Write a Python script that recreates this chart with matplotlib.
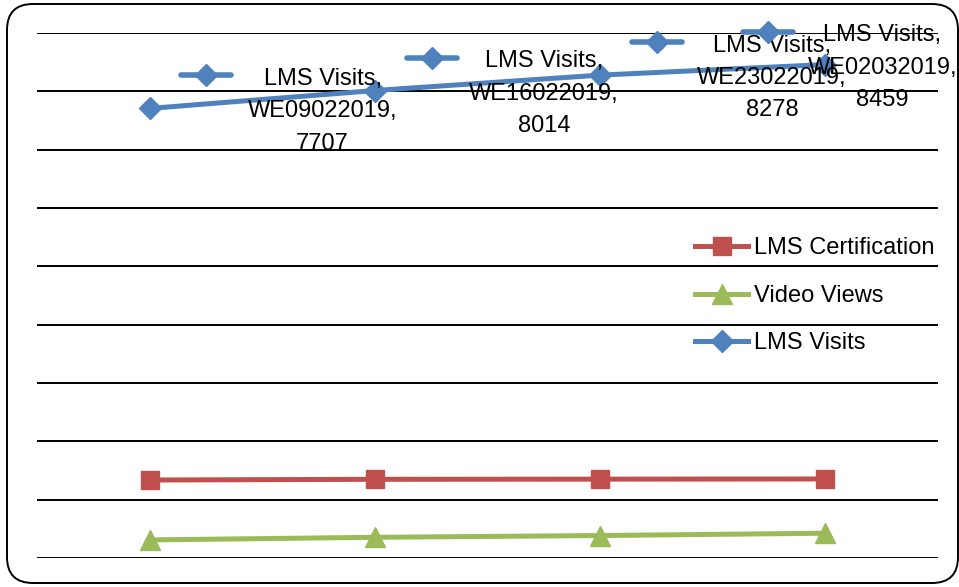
import matplotlib
matplotlib.use("Agg")
import matplotlib.pyplot as plt
import matplotlib.patches as mpatches
from matplotlib.lines import Line2D
from matplotlib.offsetbox import DrawingArea, AnnotationBbox
from matplotlib.transforms import IdentityTransform

plt.rcParams['font.family'] = ['Liberation Sans', 'DejaVu Sans']

weeks = ['WE09022019', 'WE16022019', 'WE23022019', 'WE02032019']
lms_visits = [7707, 8014, 8278, 8459]
video_views = [310, 355, 385, 425]
lms_cert = [1337, 1349, 1352, 1355]

blue = '#4F81BD'
red = '#C0504D'
green = '#9BBB59'

fig = plt.figure(figsize=(9.59, 5.87), dpi=100)
ax = fig.add_axes([37 / 959, 29 / 587, 901 / 959, 525 / 587])

x = range(len(weeks))
l_visits, = ax.plot(x, lms_visits, color=blue, lw=3.6, marker='D', ms=11,
                    label='LMS Visits')
l_video, = ax.plot(x, video_views, color=green, lw=3.6, marker='^', ms=14,
                   label='Video Views')
l_cert, = ax.plot(x, lms_cert, color=red, lw=3.6, marker='s', ms=13.5,
                  label='LMS Certification')

ax.set_xlim(-0.5, len(weeks) - 0.5)
ax.set_ylim(0, 9000)
ax.set_yticks(range(0, 9001, 1000))
ax.grid(axis='y', color='black', lw=1.4)
ax.set_axisbelow(True)
ax.tick_params(left=False, bottom=False, labelleft=False, labelbottom=False)
for s in ax.spines.values():
    s.set_visible(False)

# data labels with legend key (offsets in pixels: key start, text centre)
key_dx = [31, 31, 31, -83]
text_dx = [173, 169, 172, 57]
for i, v in enumerate(lms_visits):
    ax.annotate(f'LMS Visits,\n{weeks[i]},\n{v}', xy=(i, v),
                xytext=(text_dx[i], -3), textcoords='offset pixels',
                ha='center', va='center', multialignment='center',
                fontsize=17, linespacing=1.6, annotation_clip=False)
    da = DrawingArea(40, 14, 0, 0)
    da.add_artist(Line2D([2, 20, 38], [7, 7, 7], color=blue, lw=4,
                         solid_capstyle='round', marker='D', ms=11,
                         markevery=[1]))
    ab = AnnotationBbox(da, (i, v), xybox=(key_dx[i] - 2, 33),
                        boxcoords='offset pixels', box_alignment=(0, 0.5),
                        frameon=False, pad=0, annotation_clip=False)
    ax.add_artist(ab)

leg = fig.legend(handles=[l_cert, l_video, l_visits], loc='center left',
                 bbox_to_anchor=(695 / 959, 1 - 296 / 587), frameon=False,
                 fontsize=17, handlelength=2.25, handletextpad=0.25,
                 labelspacing=1.08, borderpad=0, borderaxespad=0)

border = mpatches.FancyBboxPatch((7, 4), 951, 579,
                                 boxstyle='round,pad=0,rounding_size=26',
                                 transform=IdentityTransform(), fill=False,
                                 ec='black', lw=1.4)
fig.add_artist(border)

fig.savefig('out.png', dpi=100)
